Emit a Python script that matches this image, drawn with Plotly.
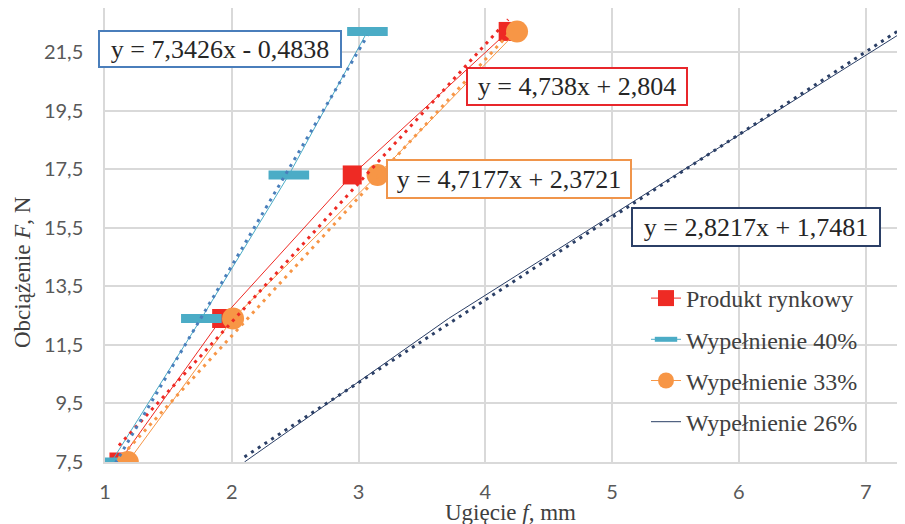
import plotly.graph_objects as go

# ---- data ----
load_N = [7.5, 12.4, 17.3, 22.2]
x_rynkowy = [1.11, 1.92, 2.95, 4.18]
x_40 = [1.05, 1.76, 2.45, 3.07]
x_33 = [1.18, 2.01, 3.15, 4.25]
x_26 = [2.10, 3.71, 5.50, 7.30]

series_names = ["Produkt rynkowy", "Wypełnienie 40%", "Wypełnienie 33%", "Wypełnienie 26%"]
trend_slopes = [4.738, 7.3426, 4.7177, 2.8217]
trend_intercepts = [2.804, -0.4838, 2.3721, 1.7481]
trend_labels = ["y = 4,738x + 2,804", "y = 7,3426x - 0,4838",
                "y = 4,7177x + 2,3721", "y = 2,8217x + 1,7481"]

x_ticks = [1, 2, 3, 4, 5, 6, 7]
y_ticks = [7.5, 9.5, 11.5, 13.5, 15.5, 17.5, 19.5, 21.5]
y_ticktext = ["7,5", "9,5", "11,5", "13,5", "15,5", "17,5", "19,5", "21,5"]

# ---- styles ----
RED = "#ee2a24"
TEAL = "#4bacc6"
ORANGE = "#f79646"
NAVY = "#2b3f66"
BLUE = "#4a7ebb"

# page offset (browser body margin)
OFF = 8

xs = [x_rynkowy, x_40, x_33, x_26]

fig = go.Figure()

# white area behind legend (hides gridlines)
fig.add_shape(type="rect", xref="paper", yref="paper",
              x0=(597 - 105) / 800, x1=(892 - 105) / 800,
              y0=(462 - 445) / 454, y1=(462 - 277) / 454,
              fillcolor="white", line=dict(width=0), layer="between")

fig.add_trace(go.Scatter(x=x_rynkowy, y=load_N, name=series_names[0], mode="lines+markers",
                         line=dict(color=RED, width=1),
                         marker=dict(symbol="square", size=19, color=RED),
                         legendgroup="a"))
fig.add_trace(go.Scatter(x=x_40, y=load_N, name=series_names[1], mode="lines+markers",
                         line=dict(color=TEAL, width=1),
                         marker=dict(symbol="line-ew", size=29, color=TEAL,
                                     line=dict(color=TEAL, width=9)),
                         legendgroup="b"))
fig.add_trace(go.Scatter(x=x_33, y=load_N, name=series_names[2], mode="lines+markers",
                         line=dict(color=ORANGE, width=1),
                         marker=dict(symbol="circle", size=22, color=ORANGE),
                         legendgroup="c"))
fig.add_trace(go.Scatter(x=x_26, y=load_N, name=series_names[3], mode="lines",
                         line=dict(color=NAVY, width=1),
                         legendgroup="d"))

# trendlines over each series' x range
trend_colors = [RED, BLUE, ORANGE, NAVY]
for xv, a, b, c in zip(xs, trend_slopes, trend_intercepts, trend_colors):
    tx = [min(xv), max(xv)]
    ty = [a * t + b for t in tx]
    fig.add_trace(go.Scatter(x=tx, y=ty, mode="lines", showlegend=False,
                             line=dict(color=c, width=3, dash="3px,5px"),
                             hoverinfo="skip"))

# equation labels
label_pos = [(577, 86, 218, 35, "#e8262b"), (220, 49.5, 240, 34, BLUE),
             (509, 178.5, 242, 36, "#f0954b"), (756, 226.5, 246, 36, NAVY)]
for txt, (px, py, w, h, bc) in zip(trend_labels, label_pos):
    fig.add_annotation(x=(px - 105) / 800, y=(462 - py) / 454, xref="paper", yref="paper",
                       text=txt, showarrow=False, xanchor="center", yanchor="middle",
                       width=w, height=h, bgcolor="white", bordercolor=bc, borderwidth=2,
                       borderpad=0,
                       font=dict(family="Liberation Serif", size=26, color="#262626"))

# axis titles
fig.add_annotation(x=(510 - 105) / 800, y=(462 - 512) / 454, xref="paper", yref="paper",
                   text="Ugięcie <i>f</i>, mm", showarrow=False,
                   xanchor="center", yanchor="middle",
                   font=dict(family="Liberation Serif", size=23, color="#404040"))
fig.add_annotation(x=(22 - 105) / 800, y=(462 - 272) / 454, xref="paper", yref="paper",
                   text="Obciążenie <i>F</i>, N", showarrow=False, textangle=-90,
                   xanchor="center", yanchor="middle",
                   font=dict(family="Liberation Serif", size=23, color="#404040"))

grid = "#d9d9d9"
fig.update_layout(
    width=905 - OFF, height=524 - OFF,
    margin=dict(l=105 - OFF, r=0, t=8 - OFF, b=62),
    plot_bgcolor="white", paper_bgcolor="white",
    showlegend=True,
    legend=dict(x=(646 - 105) / 800, y=(462 - 276) / 454, xanchor="left", yanchor="top",
                bgcolor="rgba(0,0,0,0)", traceorder="grouped", tracegroupgap=7,
                font=dict(family="Liberation Serif", size=24, color="#404040")),
    xaxis=dict(range=[1, 7.31], tickvals=x_ticks, showgrid=True, gridcolor=grid, gridwidth=1.5,
               zeroline=False, showline=True, linecolor=grid, linewidth=1.5,
               ticks="outside", ticklen=11, tickcolor="rgba(0,0,0,0)",
               tickfont=dict(family="Lato", size=20, color="#595959")),
    yaxis=dict(range=[7.5, 23.0], tickvals=y_ticks, ticktext=y_ticktext, showgrid=True,
               gridcolor=grid, gridwidth=1.5, zeroline=False, showline=True,
               linecolor=grid, linewidth=1.5,
               ticks="outside", ticklen=16, tickcolor="rgba(0,0,0,0)",
               tickfont=dict(family="Lato", size=20, color="#595959")),
)

fig.write_html("out.html")
